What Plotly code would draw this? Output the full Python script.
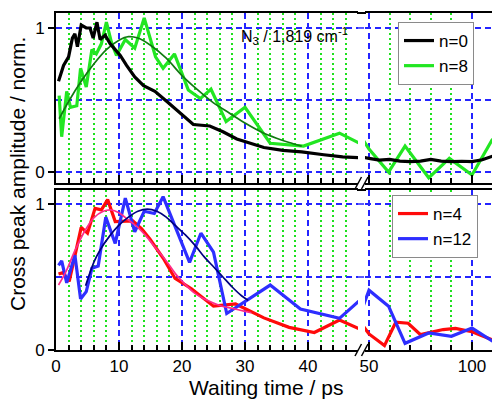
import plotly.graph_objects as go

# ---------------- data: waiting time (ps) vs. normalized cross-peak amplitude ----------------
t_n0 = [0.4, 1.2, 2.0, 2.6, 3.0, 3.4, 4.0, 4.8, 5.4, 5.9, 6.5, 7.0, 7.8, 8.6, 9.4, 10.2, 11.2, 12.5,
        13.9, 15.7, 17.6, 19.7, 21.8, 24.4, 26.5, 28.7, 30.8, 33.0, 36.0, 39.0, 42.5, 45.5, 50.0,
        55.0, 60.0, 65.0, 70.0, 75.0, 80.0, 85.0, 90.0, 95.0, 100.0, 105.0, 110.0]
amp_n0 = [0.63, 0.74, 0.80, 0.93, 0.96, 0.87, 1.02, 1.00, 1.00, 0.93, 1.04, 0.92, 0.95, 0.89, 0.85,
          0.81, 0.74, 0.66, 0.60, 0.56, 0.49, 0.41, 0.33, 0.32, 0.28, 0.23, 0.20, 0.17, 0.15, 0.14,
          0.12, 0.105, 0.095, 0.083, 0.088, 0.076, 0.072, 0.076, 0.088, 0.076, 0.072, 0.075, 0.072,
          0.085, 0.11]

t_n8 = [0.5, 0.9, 1.7, 2.3, 3.3, 3.9, 4.8, 5.7, 6.4, 7.2, 8.0, 8.8, 9.6, 11.0, 12.5, 14.0, 15.8,
        17.0, 18.8, 21.0, 22.9, 24.6, 27.0, 30.0, 34.0, 39.3, 45.0, 50.0, 59.5, 67.5, 79.0, 89.0,
        100.0, 110.0]
amp_n8 = [0.53, 0.245, 0.56, 0.45, 0.46, 0.72, 0.59, 0.85, 0.82, 0.89, 1.04, 0.90, 0.81, 0.92, 0.86,
          1.07, 0.80, 0.72, 0.82, 0.57, 0.51, 0.575, 0.35, 0.45, 0.20, 0.18, 0.27, 0.16, 0.0, 0.18,
          -0.04, 0.095, -0.02, 0.23]

t_fit8 = [0.5, 2, 4, 6, 8, 10, 11.5, 13, 15, 17.5, 20, 22.5, 25, 27.5, 30, 32.5, 35, 37, 39]
fit_n8 = [0.37, 0.49, 0.63, 0.75, 0.85, 0.915, 0.94, 0.93, 0.88, 0.79, 0.67, 0.57, 0.48, 0.41,
          0.34, 0.28, 0.235, 0.205, 0.18]

t_n4 = [0.4, 1.1, 2.1, 4.0, 5.0, 6.2, 7.2, 8.2, 9.4, 11.1, 12.2, 13.6, 14.9, 17.0, 18.9, 21.5,
        25.0, 28.5, 33.0, 37.0, 41.0, 45.0, 50.0, 57.5, 63.0, 69.0, 75.0, 81.0, 86.0, 92.0,
        100.0, 110.0]
amp_n4 = [0.52, 0.53, 0.47, 0.84, 0.80, 0.97, 0.96, 1.03, 0.88, 0.885, 0.885, 0.83, 0.76, 0.63,
          0.49, 0.42, 0.30, 0.315, 0.22, 0.155, 0.12, 0.205, 0.11, 0.03, 0.19, 0.183, 0.105,
          0.125, 0.14, 0.148, 0.125, 0.068]

t_fit4 = [0.4, 1.5, 3, 4.5, 6, 7.5, 8.7, 10, 11.5, 13, 14.5, 16, 17.5, 19, 20.5, 22, 24, 26, 28,
          30, 31]
fit_n4 = [0.445, 0.53, 0.68, 0.81, 0.905, 0.95, 0.96, 0.94, 0.89, 0.84, 0.77, 0.69, 0.61, 0.52,
          0.45, 0.39, 0.34, 0.305, 0.285, 0.265, 0.255]

t_n12 = [0.4, 0.9, 1.7, 3.0, 3.9, 4.8, 5.7, 6.7, 7.9, 9.4, 11.0, 12.5, 14.0, 15.6, 17.0, 21.2,
         23.0, 25.0, 27.1, 30.0, 34.0, 38.8, 45.0, 50.0, 59.5, 67.5, 79.0, 90.0, 100.0, 110.0]
amp_n12 = [0.58, 0.61, 0.46, 0.65, 0.35, 0.40, 0.56, 0.575, 0.91, 0.73, 1.04, 0.81, 0.95, 0.935,
           1.05, 0.60, 0.80, 0.67, 0.25, 0.33, 0.445, 0.28, 0.217, 0.41, 0.30, 0.046, 0.117,
           0.094, 0.15, 0.06]

t_fit12 = [4.7, 6, 7, 8.5, 10, 11.5, 13, 14.5, 16, 17.5, 19, 20.5, 22, 23.5, 25, 26.5, 28, 29.5,
           30.5]
fit_n12 = [0.44, 0.6, 0.685, 0.78, 0.855, 0.91, 0.95, 0.965, 0.95, 0.91, 0.85, 0.79, 0.72, 0.64,
           0.57, 0.5, 0.43, 0.37, 0.34]

# ---------------- page geometry ----------------
W, H = 492, 400
ML, MR, MT, MB = 56, 0, 13, 50
PW, PH = W - ML - MR, H - MT - MB


def px(xp):
    return (xp - ML) / PW


def py(yp):
    return (H - MB - yp) / PH


FONT = "Arial, 'Liberation Sans', sans-serif"
MAJOR_GRID = "#2424ff"
MINOR_GRID = "#1ee01e"
DASH = "6px,4px"
DOT = "2px,3px"

fig = go.Figure()


def add_series(t, y, color, width, xs, yref, name=None, legend=None, spline=False):
    """Draw one series on both halves of the broken time axis."""
    for i, xa in enumerate(xs):
        fig.add_trace(go.Scatter(
            x=t, y=y, mode="lines", xaxis=xa, yaxis=yref,
            line=dict(color=color, width=width, shape="spline" if spline else "linear",
                      smoothing=0.8),
            name=name, showlegend=(name is not None and i == 0),
            legend=legend, hoverinfo="skip"))


# upper panel
add_series(t_n8, amp_n8, "#22e622", 3.2, ["x", "x2"], "y", "n=8", "legend")
add_series(t_fit8, fit_n8, "#117a11", 1.7, ["x", "x2"], "y", spline=True)
add_series(t_n0, amp_n0, "black", 3.2, ["x", "x2"], "y", "n=0", "legend")
# lower panel
add_series(t_n4, amp_n4, "#ff0a0a", 3.2, ["x3", "x4"], "y2", "n=4", "legend2")
add_series(t_n12, amp_n12, "#2e2eff", 3.2, ["x3", "x4"], "y2", "n=12", "legend2")
add_series(t_fit4, fit_n4, "#ff2a8a", 1.7, ["x3", "x4"], "y2", spline=True)
add_series(t_fit12, fit_n12, "#000080", 1.7, ["x3", "x4"], "y2", spline=True)

# legend ordering: n=0 before n=8
for tr in fig.data:
    if tr.name == "n=0":
        tr.legendrank = 1
    elif tr.name == "n=8":
        tr.legendrank = 2

GAP_L, GAP_R = 358, 365
SEG1 = [0, px(GAP_L)]
SEG2 = [px(GAP_R), 1]
TOP = [py(183), 1]
BOT = [0, py(190)]


def x_axis(domain, rng, dtick, minor_dtick, anchor, labels):
    return dict(
        domain=domain, range=rng, anchor=anchor, tickmode="linear", tick0=0, dtick=dtick,
        ticks="inside", ticklen=8, tickwidth=1.5, tickcolor="black",
        showline=True, linecolor="black", linewidth=2, mirror=True,
        showgrid=True, gridcolor=MAJOR_GRID, gridwidth=1.5, griddash=DASH,
        zeroline=False, showticklabels=labels,
        tickfont=dict(family=FONT, size=17, color="black"),
        minor=dict(tickmode="linear", tick0=0, dtick=minor_dtick, ticks="inside", ticklen=5,
                   tickwidth=1.5, tickcolor="black", showgrid=True, gridcolor=MINOR_GRID,
                   gridwidth=1.5, griddash=DOT))


def y_axis(domain, rng, anchor):
    return dict(
        domain=domain, range=rng, anchor=anchor, tickmode="array", tickvals=[0, 1],
        ticktext=["0", "1"], ticks="outside", ticklen=6, tickwidth=1.5, tickcolor="black",
        showline=True, linecolor="black", linewidth=2, mirror=False,
        showgrid=True, gridcolor=MAJOR_GRID, gridwidth=1.5, griddash=DASH, zeroline=False,
        tickfont=dict(family=FONT, size=17, color="black"),
        minor=dict(tickmode="array", tickvals=[0.5], ticks="", showgrid=True,
                   gridcolor=MAJOR_GRID, gridwidth=1.5, griddash=DASH))


RANGE1 = [0, (GAP_L - ML) / 6.3]
RANGE2 = [50 - (369 - GAP_R) / 2.06, 100 + 20 / 2.06]

legend_style = dict(xanchor="left", yanchor="top", bgcolor="white", bordercolor="#8a8a8a",
                    borderwidth=1, font=dict(family=FONT, size=17, color="black"),
                    tracegroupgap=0, traceorder="normal")

fig.update_layout(
    width=W, height=H, margin=dict(l=ML, r=MR, t=MT, b=MB),
    paper_bgcolor="white", plot_bgcolor="white",
    font=dict(family=FONT, size=17, color="black"),
    xaxis=x_axis(SEG1, RANGE1, 10, 2, "y", False),
    xaxis2=x_axis(SEG2, RANGE2, 50, 10, "y", False),
    xaxis3=x_axis(SEG1, RANGE1, 10, 2, "y2", True),
    xaxis4=x_axis(SEG2, RANGE2, 50, 10, "y2", True),
    yaxis=y_axis(TOP, [-0.076, 1.104], "x"),
    yaxis2=y_axis(BOT, [0, 1.096], "x3"),
    legend=dict(x=px(398), y=py(22), **legend_style),
    legend2=dict(x=px(392), y=py(195), **legend_style),
    showlegend=True,
)

# bridge the frame tops and horizontal grid lines across the axis break
for yp in (13, 190):
    fig.add_shape(type="line", xref="paper", yref="paper", layer="above",
                  x0=px(GAP_L - 1), x1=px(GAP_R + 1), y0=py(yp), y1=py(yp),
                  line=dict(color="black", width=2))
for yref, levels in (("y", (0, 0.5, 1)), ("y2", (0.5, 1))):
    for lv in levels:
        fig.add_shape(type="line", xref="paper", yref=yref, layer="below",
                      x0=px(GAP_L), x1=px(GAP_R), y0=lv, y1=lv,
                      line=dict(color=MAJOR_GRID, width=1.5, dash=DASH))

# axis-break marks "//" on the lower edge of each panel
for yp in (183, 350):
    for x0 in (355, 361.5):
        fig.add_shape(type="line", xref="paper", yref="paper",
                      x0=px(x0), y0=py(yp + 6), x1=px(x0 + 6.5), y1=py(yp - 6),
                      line=dict(color="black", width=1.5))

fig.add_annotation(text="Waiting time / ps", xref="paper", yref="paper",
                   x=px(266), y=py(388), xanchor="center", yanchor="middle", showarrow=False,
                   font=dict(family=FONT, size=21, color="black"))
fig.add_annotation(text="Cross peak amplitude / norm.", xref="paper", yref="paper",
                   x=px(18), y=py(174), xanchor="center", yanchor="middle", showarrow=False,
                   textangle=-90, font=dict(family=FONT, size=21, color="black"))
fig.add_annotation(text="N<sub>3</sub> / 1,819 cm<sup>-1</sup>", xref="paper", yref="paper",
                   x=px(294), y=py(36), xanchor="center", yanchor="middle", showarrow=False,
                   font=dict(family=FONT, size=16, color="black"))

fig.write_html("out.html")
